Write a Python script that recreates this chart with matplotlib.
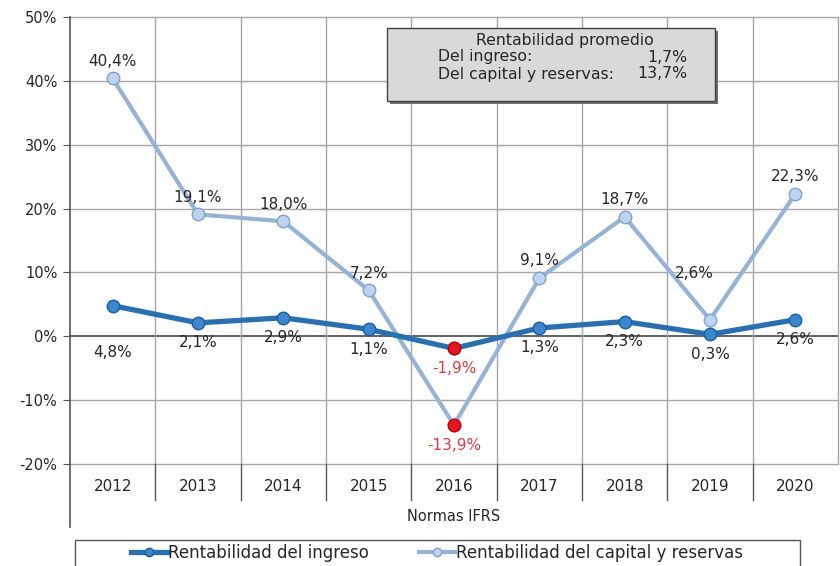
import matplotlib.pyplot as plt
from matplotlib.lines import Line2D
from matplotlib.patches import Rectangle

years = ['2012', '2013', '2014', '2015', '2016', '2017', '2018', '2019', '2020']
ingreso = [4.8, 2.1, 2.9, 1.1, -1.9, 1.3, 2.3, 0.3, 2.6]
capital = [40.4, 19.1, 18.0, 7.2, -13.9, 9.1, 18.7, 2.6, 22.3]
yticks = [-20, -10, 0, 10, 20, 30, 40, 50]
prom_ingreso = '1,7%'
prom_capital = '13,7%'

dark = '#2670B8'
light = '#95B3D7'
red = '#E8141B'
red_txt = '#E8383D'
grid_c = '#A6A6A6'
txt = '#262626'

fig = plt.figure(figsize=(8.4, 5.66), dpi=100)
W, H = 840, 566
ax = fig.add_axes([70 / W, (H - 464) / H, (838 - 70) / W, (464 - 17) / H])

x = list(range(len(years)))
ax.set_xlim(-0.5, len(years) - 0.5)
ax.set_ylim(-20, 50)

# grid
for v in yticks:
    ax.axhline(v, color='#555555' if v == 0 else grid_c, lw=1.3 if v == 0 else 1,
               zorder=1, clip_on=False)
for b in range(1, len(years) + 1):
    ax.axvline(b - 0.5, color=grid_c, lw=1, zorder=1, clip_on=False)
for s in ['top', 'right', 'bottom']:
    ax.spines[s].set_visible(False)
ax.spines['left'].set_color('#555555')
ax.spines['left'].set_linewidth(1.2)

# series
ax.plot(x, capital, color=light, lw=3, marker='o', ms=9, mfc='#BDD3EE', mec='#7FA3CF', zorder=3)
ax.plot(x, ingreso, color=dark, lw=3.8, marker='o', ms=9, mfc='#3A86D0', mec='#1C5E9E', zorder=4)
i16 = years.index('2016')
ax.plot([i16, i16], [ingreso[i16], capital[i16]], ls='none', marker='o', ms=9,
        mfc=red, mec='#C00000', zorder=5)

def fmt(v):
    return f'{v:.1f}%'.replace('.', ',')

# label offsets in points (dx, dy); default: ingreso below, capital above
off_ing = {0: (0, -28)}
off_cap = {i16: (0, -9), 7: (-11, 28)}

for i in x:
    c = red_txt if i == i16 else txt
    dx, dy = off_ing.get(i, (0, -9))
    ax.annotate(fmt(ingreso[i]), (i, ingreso[i]), xytext=(dx, dy), textcoords='offset points',
                ha='center', va='top', fontsize=11, color=c, zorder=6)
    dx, dy = off_cap.get(i, (0, 7))
    ax.annotate(fmt(capital[i]), (i, capital[i]), xytext=(dx, dy), textcoords='offset points',
                ha='center', va='top' if dy < 0 else 'bottom', fontsize=11, color=c, zorder=6)

# y axis
ax.set_yticks(yticks)
ax.set_yticklabels([f'{v}%' for v in yticks], fontsize=10.5, color=txt)
ax.tick_params(axis='y', length=5, color='#555555', pad=4)
ax.set_xticks([])

# category axis block (multi-level)
tr = ax.get_xaxis_transform()
for b in range(1, len(years)):
    ax.add_line(Line2D([b - 0.5, b - 0.5], [0, -0.08], transform=tr, color='#555555',
                       lw=1, clip_on=False))
ax.add_line(Line2D([-0.5, -0.5], [0, -0.14], transform=tr, color='#555555', lw=1.2, clip_on=False))
for i, y in enumerate(years):
    ax.text(i, -0.05, y, transform=tr, ha='center', va='center', fontsize=11, color=txt)
ax.text(0.5, -0.118, 'Normas IFRS', transform=ax.transAxes, ha='center', va='center',
        fontsize=10.5, color=txt)

# average box
bx0, by0, bx1, by1 = 387 / W, 1 - 101 / H, 715 / W, 1 - 28 / H
fig.patches.append(Rectangle((bx0 + 0.004, by0 - 0.006), bx1 - bx0, by1 - by0,
                             transform=fig.transFigure, fc='#6F6F6F', ec='none', zorder=1))
fig.patches.append(Rectangle((bx0, by0), bx1 - bx0, by1 - by0, transform=fig.transFigure,
                             fc='#D9D9D9', ec='#404040', lw=1, zorder=2))
fig.text(565 / W, 1 - 41 / H, 'Rentabilidad promedio', ha='center', va='center',
         fontsize=11.3, color=txt, zorder=3)
fig.add_artist(Line2D([475 / W, 655 / W], [1 - 50 / H, 1 - 50 / H], color=txt, lw=0.8))
fig.text(438 / W, 1 - 57 / H, 'Del ingreso:', ha='left', va='center', fontsize=11.3, color=txt)
fig.text(687 / W, 1 - 57 / H, prom_ingreso, ha='right', va='center', fontsize=11.3, color=txt)
fig.text(438 / W, 1 - 74 / H, 'Del capital y reservas:', ha='left', va='center', fontsize=11.3, color=txt)
fig.text(687 / W, 1 - 74 / H, prom_capital, ha='right', va='center', fontsize=11.3, color=txt)

# legend box
fig.patches.append(Rectangle((75 / W, -0.01), (800 - 75) / W, (566 - 540) / H + 0.01,
                             transform=fig.transFigure, fc='white', ec='#555555', lw=1))
h1 = Line2D([], [], color=dark, lw=3.8, marker='o', ms=6, mfc='#3A86D0', mec='#1C5E9E')
h2 = Line2D([], [], color=light, lw=3, marker='o', ms=6, mfc='#BDD3EE', mec='#7FA3CF')
fig.legend([h1, h2], ['Rentabilidad del ingreso', 'Rentabilidad del capital y reservas'],
           loc='center', bbox_to_anchor=(437 / W, 1 - 553 / H), ncol=2, frameon=False,
           fontsize=12, handlelength=2.2, handletextpad=0.05, columnspacing=2.95, labelcolor=txt)

fig.savefig('out.png', dpi=100)
